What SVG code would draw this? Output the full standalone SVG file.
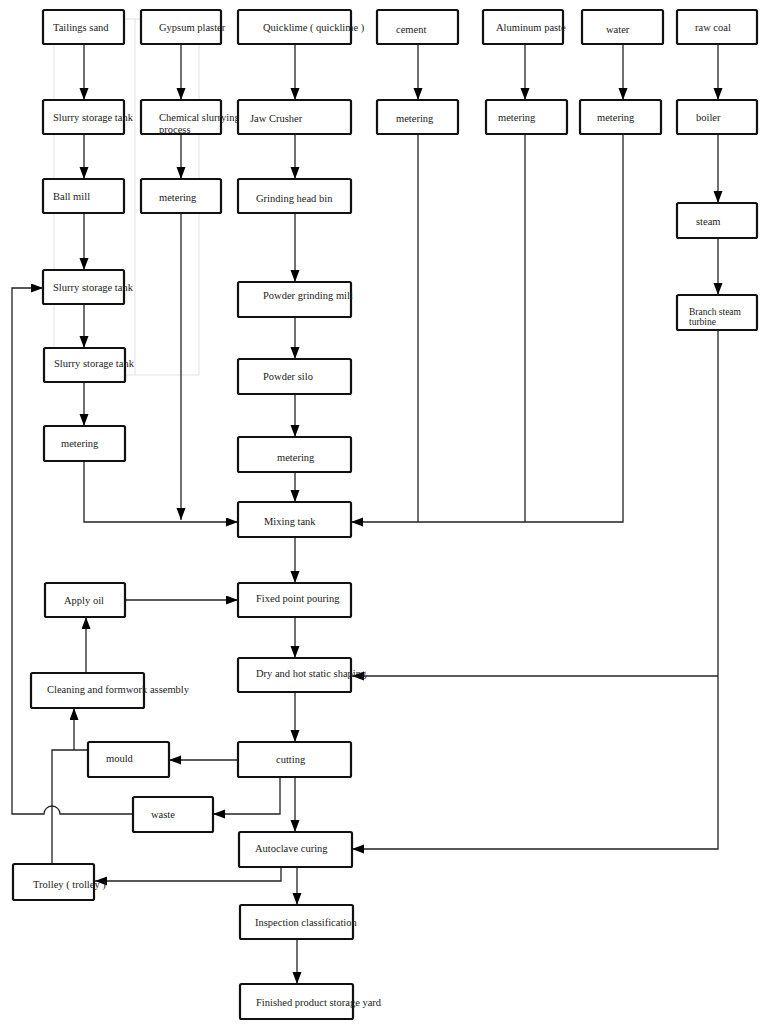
<svg xmlns="http://www.w3.org/2000/svg" width="765" height="1024" viewBox="0 0 765 1024">
<defs>
<marker id="ah" markerUnits="userSpaceOnUse" markerWidth="12" markerHeight="10" refX="12" refY="4.5" orient="auto">
<path d="M0,0 L12,4.5 L0,9 z" fill="#000"/>
</marker>
<style>
.box{fill:#fff;stroke:#111;stroke-width:2.2}
.t{font-family:"Liberation Serif","Times New Roman",serif;font-size:10.5px;fill:#222}
.ts{font-family:"Liberation Serif","Times New Roman",serif;font-size:9.5px;fill:#222}
.c{fill:none;stroke:#222;stroke-width:1.3}
.a{marker-end:url(#ah)}
.faint{fill:none;stroke:#ddd;stroke-width:0.8}
</style>
</defs>
<rect width="765" height="1024" fill="#fff"/>
<g id="faint-frame">
<rect class="faint" x="54" y="19" width="145" height="356"/>
<line class="faint" x1="135" y1="19" x2="135" y2="375"/>
</g>
<g id="connectors">
<path class="c a" d="M84,44 V100"/>
<path class="c a" d="M84,134 V179"/>
<path class="c a" d="M84,213 V270"/>
<path class="c a" d="M84,304 V348"/>
<path class="c a" d="M84,382 V426"/>
<path class="c a" d="M84,461 V522 H238"/>
<path class="c a" d="M181,44 V100"/>
<path class="c a" d="M181,134 V179"/>
<path class="c a" d="M181,213 V520"/>
<path class="c a" d="M295,44 V100"/>
<path class="c a" d="M295,134 V179"/>
<path class="c a" d="M295,213 V282"/>
<path class="c a" d="M295,317 V359"/>
<path class="c a" d="M295,394 V437"/>
<path class="c a" d="M295,472 V502"/>
<path class="c a" d="M295,537 V583"/>
<path class="c a" d="M295,617 V658"/>
<path class="c a" d="M295,692 V742"/>
<path class="c a" d="M295,777 V832"/>
<path class="c a" d="M297,867 V905"/>
<path class="c a" d="M297,939 V984"/>
<path class="c a" d="M418,44 V100"/>
<path class="c" d="M418,134 V522"/>
<path class="c a" d="M525,44 V100"/>
<path class="c" d="M525,134 V522"/>
<path class="c a" d="M623,44 V100"/>
<path class="c a" d="M623,134 V522 H351"/>
<path class="c a" d="M718,44 V100"/>
<path class="c a" d="M718,134 V203"/>
<path class="c a" d="M718,238 V295"/>
<path class="c a" d="M718,330 V849 H352"/>
<path class="c a" d="M718,676 H352"/>
<path class="c a" d="M125,600 H238"/>
<path class="c a" d="M86,673 V617"/>
<path class="c a" d="M238,760 H169"/>
<path class="c a" d="M280,777 V814 H213"/>
<path class="c a" d="M133,814 H60 A8,8 0 0 0 44,814 H12 V288 H43"/>
<path class="c" d="M52,864 V750 H88"/>
<path class="c a" d="M74,750 V708"/>
<path class="c a" d="M281,867 V881 H95"/>
</g>
<g id="n-tailings"><rect class="box" x="43" y="10" width="81" height="34" rx="1.5"/><text class="t" x="53" y="31">Tailings sand</text></g>
<g id="n-gypsum"><rect class="box" x="141" y="10" width="80" height="34" rx="1.5"/><text class="t" x="159" y="31">Gypsum plaster</text></g>
<g id="n-quicklime"><rect class="box" x="238" y="10" width="113" height="34" rx="1.5"/><text class="t" x="263" y="31">Quicklime ( quicklime )</text></g>
<g id="n-cement"><rect class="box" x="377" y="10" width="81" height="34" rx="1.5"/><text class="t" x="396" y="33">cement</text></g>
<g id="n-aluminum"><rect class="box" x="483" y="10" width="80" height="34" rx="1.5"/><text class="t" x="496" y="31">Aluminum paste</text></g>
<g id="n-water"><rect class="box" x="582" y="10" width="81" height="34" rx="1.5"/><text class="t" x="606" y="33">water</text></g>
<g id="n-rawcoal"><rect class="box" x="677" y="10" width="80" height="34" rx="1.5"/><text class="t" x="695" y="31">raw coal</text></g>
<g id="n-slurry1"><rect class="box" x="43" y="100" width="81" height="34" rx="1.5"/><text class="t" x="53" y="121">Slurry storage tank</text></g>
<g id="n-chemical"><rect class="box" x="141" y="100" width="80" height="34" rx="1.5"/><text class="t" x="159" y="121">Chemical slurrying</text><text class="t" x="159" y="133">process</text></g>
<g id="n-jaw"><rect class="box" x="238" y="100" width="113" height="34" rx="1.5"/><text class="t" x="250" y="122">Jaw Crusher</text></g>
<g id="n-metering-cement"><rect class="box" x="377" y="100" width="81" height="34" rx="1.5"/><text class="t" x="396" y="122">metering</text></g>
<g id="n-metering-al"><rect class="box" x="486" y="100" width="81" height="34" rx="1.5"/><text class="t" x="498" y="121">metering</text></g>
<g id="n-metering-water"><rect class="box" x="580" y="100" width="81" height="34" rx="1.5"/><text class="t" x="597" y="121">metering</text></g>
<g id="n-boiler"><rect class="box" x="677" y="100" width="80" height="34" rx="1.5"/><text class="t" x="696" y="121">boiler</text></g>
<g id="n-ballmill"><rect class="box" x="43" y="179" width="81" height="34" rx="1.5"/><text class="t" x="53" y="200">Ball mill</text></g>
<g id="n-metering-gypsum"><rect class="box" x="141" y="179" width="80" height="34" rx="1.5"/><text class="t" x="159" y="201">metering</text></g>
<g id="n-grinding-head"><rect class="box" x="238" y="179" width="113" height="34" rx="1.5"/><text class="t" x="256" y="202">Grinding head bin</text></g>
<g id="n-steam"><rect class="box" x="677" y="203" width="80" height="35" rx="1.5"/><text class="t" x="696" y="225">steam</text></g>
<g id="n-branch"><rect class="box" x="677" y="295" width="80" height="35" rx="1.5"/><text class="ts" x="689" y="315">Branch steam</text><text class="ts" x="689" y="325">turbine</text></g>
<g id="n-slurry2"><rect class="box" x="43" y="270" width="81" height="34" rx="1.5"/><text class="t" x="53" y="291">Slurry storage tank</text></g>
<g id="n-slurry3"><rect class="box" x="44" y="348" width="81" height="34" rx="1.5"/><text class="t" x="54" y="367">Slurry storage tank</text></g>
<g id="n-metering-left"><rect class="box" x="44" y="426" width="81" height="35" rx="1.5"/><text class="t" x="61" y="447">metering</text></g>
<g id="n-powder-mill"><rect class="box" x="238" y="282" width="113" height="35" rx="1.5"/><text class="t" x="263" y="299">Powder grinding mill</text></g>
<g id="n-powder-silo"><rect class="box" x="238" y="359" width="113" height="35" rx="1.5"/><text class="t" x="263" y="380">Powder silo</text></g>
<g id="n-metering-center"><rect class="box" x="238" y="437" width="113" height="35" rx="1.5"/><text class="t" x="277" y="461">metering</text></g>
<g id="n-mixing"><rect class="box" x="238" y="502" width="113" height="35" rx="1.5"/><text class="t" x="264" y="525">Mixing tank</text></g>
<g id="n-applyoil"><rect class="box" x="45" y="583" width="80" height="34" rx="1.5"/><text class="t" x="64" y="604">Apply oil</text></g>
<g id="n-pouring"><rect class="box" x="238" y="583" width="113" height="34" rx="1.5"/><text class="t" x="256" y="602">Fixed point pouring</text></g>
<g id="n-dryhot"><rect class="box" x="238" y="658" width="113" height="34" rx="1.5"/><text class="t" x="256" y="677">Dry and hot static shaping</text></g>
<g id="n-cleaning"><rect class="box" x="31" y="673" width="113" height="35" rx="1.5"/><text class="t" x="47" y="693">Cleaning and formwork assembly</text></g>
<g id="n-mould"><rect class="box" x="88" y="742" width="81" height="35" rx="1.5"/><text class="t" x="106" y="762">mould</text></g>
<g id="n-cutting"><rect class="box" x="238" y="742" width="113" height="35" rx="1.5"/><text class="t" x="276" y="763">cutting</text></g>
<g id="n-waste"><rect class="box" x="133" y="797" width="80" height="35" rx="1.5"/><text class="t" x="151" y="818">waste</text></g>
<g id="n-autoclave"><rect class="box" x="239" y="832" width="113" height="35" rx="1.5"/><text class="t" x="255" y="852">Autoclave curing</text></g>
<g id="n-trolley"><rect class="box" x="13" y="864" width="81" height="36" rx="1.5"/><text class="t" x="33" y="888">Trolley ( trolley )</text></g>
<g id="n-inspection"><rect class="box" x="240" y="905" width="113" height="34" rx="1.5"/><text class="t" x="255" y="926">Inspection classification</text></g>
<g id="n-finished"><rect class="box" x="240" y="984" width="113" height="35" rx="1.5"/><text class="t" x="256" y="1006">Finished product storage yard</text></g>
</svg>
